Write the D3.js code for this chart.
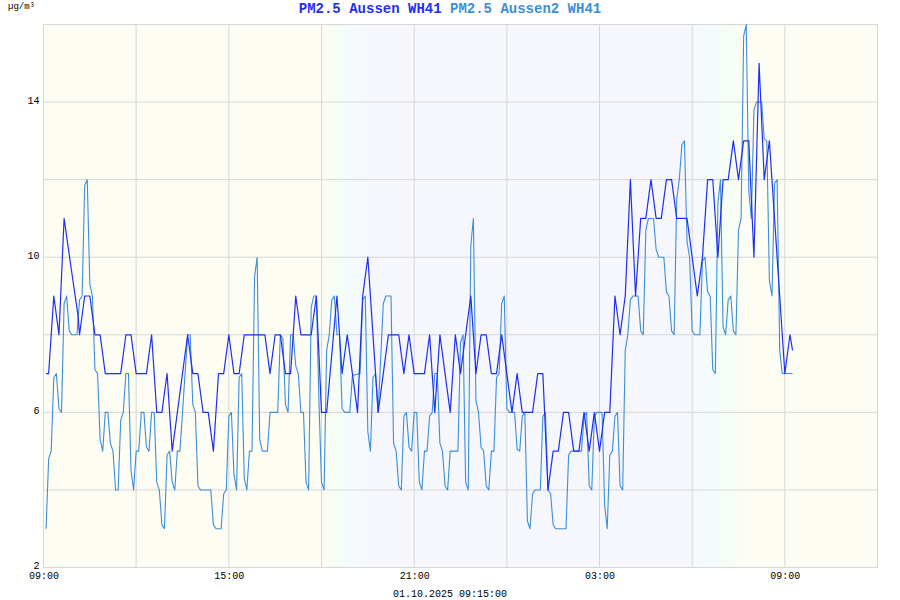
<!DOCTYPE html>
<html><head><meta charset="utf-8">
<script src="https://cdn.jsdelivr.net/npm/d3@7"></script>
<style>body{margin:0;background:#fff}svg{display:block}</style>
</head><body><svg id="c" width="900" height="600"></svg>
<script>
const seriesNames = ["PM2.5 Aussen WH41", "PM2.5 Aussen2 WH41"];
const seriesColors = ["#1f2ff2", "#3d8ed8"];
const unitLabel = "µg/m³";
const footerLabel = "01.10.2025 09:15:00";

// minutes after 30.09.2025 09:00
const darkMinutes = [5,10,20,30,40,55,67,70,80,90,100,110,120,150,160,170,180,200,210,220,230,240,250,260,270,280,290,300,310,320,330,340,350,360,370,380,390,430,440,450,460,470,480,490,500,520,530,540,550,570,580,590,610,620,630,650,670,690,700,710,720,740,750,760,770,780,790,800,810,820,830,840,850,860,870,880,890,900,910,920,930,950,960,970,980,990,1000,1010,1020,1030,1040,1050,1060,1070,1080,1090,1100,1110,1120,1130,1140,1150,1160,1170,1180,1190,1200,1210,1220,1230,1250,1260,1270,1280,1290,1300,1310,1320,1330,1340,1350,1360,1370,1380,1390,1400,1410,1420,1430,1440,1450,1455];
const darkValues = [7,7,9,8,11,9.6,8.5,8,9,9,8,8,7,7,8,8,7,7,8,6,6,7,5,6,7,8,7,7,6,6,5,7,7,8,7,7,8,8,7,8,8,7,7,9,8,8,9,6,6,9,7,8,6,9,10,6,8,8,7,8,7,7,8,6,8,7,6,8,7,8,9,7,8,8,7,7,8,7,6,7,6,6,7,7,4,5,5,6,6,5,5,6,5,6,5,6,6,9,8,9,12,9,11,11,12,11,11,12,12,11,11,10,9,10,12,12,10,12,12,13,12,13,13,10,15,12,13,11,9,7,8,7.6];

const lightMinutes = [5,10,15,20,25,30,35,40,45,50,55,65,70,75,80,85,90,95,100,105,110,115,120,125,130,135,140,145,150,155,160,165,170,175,180,185,190,195,200,205,210,215,220,225,230,235,240,245,250,255,260,265,280,285,290,295,300,305,325,330,335,345,350,355,360,365,370,375,380,385,390,395,400,405,410,415,420,425,435,440,455,460,465,470,475,480,485,490,495,500,505,510,515,520,525,530,535,540,545,550,555,560,565,570,575,580,585,595,600,615,620,625,630,635,640,645,650,660,665,675,680,685,690,695,700,705,710,715,720,725,730,735,740,745,750,755,760,765,770,775,780,785,790,795,805,810,815,820,825,830,835,840,845,850,855,860,865,870,875,880,885,890,895,900,905,915,920,925,930,935,940,945,950,955,965,970,975,980,985,990,995,1015,1020,1025,1045,1050,1055,1060,1065,1070,1075,1085,1090,1095,1100,1105,1110,1115,1120,1125,1130,1135,1140,1145,1155,1160,1165,1170,1175,1185,1190,1195,1205,1210,1215,1220,1225,1230,1235,1240,1245,1250,1255,1260,1265,1275,1280,1285,1290,1295,1300,1305,1310,1315,1320,1325,1330,1335,1340,1345,1350,1355,1360,1365,1370,1375,1380,1385,1395,1400,1405,1410,1415,1420,1425,1430,1435,1455];
const lightValues = [3,4.8,5,6.9,7,6.1,6,8.8,9,8.1,8,8,8.9,9,11.85,12,9.3,9,7.1,7,5.3,5,6,6,5.2,5,4,4,5.8,6,7,7,4.5,4,5,5,6,6,5.1,5,6,6,4.2,4,3.1,3,4.9,5,4.2,4,5,5,8,8,6.2,6,4.1,4,4,3.1,3,3,3.9,4,5.9,6,4.4,4,6.9,7,4.3,4,5,5,9.5,10,5.3,5,5,6,6,8,7.9,6.2,6,8,8,7.2,7,6,6,4.2,4,8.7,9,9,6.3,4.2,4,7.6,8,8.9,9,8,8,6.1,6,6,6.95,7,8.9,9,5.5,5,6.9,7,6,8.8,9,9,5.2,5,4.1,4,5.9,6,5.1,5,6,6,4.2,4,5,5,5.9,6,7,7,5.2,5,4.1,4,5,5,5,7.8,8,4.2,4,10.3,11,6.3,6,5.1,5,4.1,4,5,5,6.9,7,8.8,9,6.1,6,6,5.05,5,5.9,6,3.2,3,3.9,4,4,5.9,6,4,3.9,3.1,3,3,4.9,5,5,5.9,6,4.1,4,5.9,6,6,3.6,3,4.9,5,5.9,6,4.1,4,7.6,8,8.9,9,9,8.1,8,10.7,11,11,10.2,10,10,9.1,9,8.1,8,11.5,12,12.9,13,10.4,10,8.1,8,8,9.9,10,9.1,9,7.1,7,11.4,12,8.2,8,8.9,9,8.1,8,10.7,11,15.7,16,11.7,11,13.8,14,14,13.05,13,9.4,9,11.9,12,7.6,7,7];

const yGridValues = [2,4,6,8,10,12,14,16];
const yLabelValues = [2,6,10,14];
const xGridMinutes = [0,180,360,540,720,900,1080,1260,1440,1620];
const xLabelMinutes = [0,360,720,1080,1440];
const bgBands = [
  {from: 0, to: 540, kind: "day"},
  {from: 540, to: 625, kind: "dusk"},
  {from: 625, to: 1260, kind: "night"},
  {from: 1260, to: 1365, kind: "dawn"},
  {from: 1365, to: 1620, kind: "day"}
];

const start = new Date(2025, 8, 30, 9, 0, 0);
const end = new Date(2025, 9, 1, 12, 0, 0);
const t = m => new Date(start.getTime() + m * 60000);

const svg = d3.select("#c");
const x = d3.scaleTime().domain([start, end]).range([43.5, 877.5]);
const y = d3.scaleLinear().domain([2, 16]).range([567.5, 24.5]);

const defs = svg.append("defs");
const dayC = "#fdfdf4", nightC = "#f6f7fd";
function grad(id, stops) {
  const g = defs.append("linearGradient").attr("id", id).attr("x1", "0").attr("x2", "1").attr("y1", "0").attr("y2", "0");
  stops.forEach(s => g.append("stop").attr("offset", s[0]).attr("stop-color", s[1]));
}
grad("dusk", [[0, dayC], [0.35, "#f5fdf4"], [0.65, "#f4fcfc"], [1, nightC]]);
grad("dawn", [[0, nightC], [0.35, "#f4fbfd"], [0.65, "#f5fdf4"], [1, dayC]]);

svg.append("g").selectAll("rect").data(bgBands).join("rect")
  .attr("x", d => x(t(d.from))).attr("width", d => x(t(d.to)) - x(t(d.from)))
  .attr("y", y(16)).attr("height", y(2) - y(16))
  .attr("fill", d => d.kind === "day" ? dayC : d.kind === "night" ? nightC : `url(#${d.kind})`);

// grid
svg.append("g").selectAll("line").data(xGridMinutes).join("line")
  .attr("x1", d => x(t(d))).attr("x2", d => x(t(d))).attr("y1", y(16)).attr("y2", y(2))
  .attr("stroke", "#d6d6d6").attr("stroke-width", 1);
svg.append("g").selectAll("line").data(yGridValues).join("line")
  .attr("x1", x(start)).attr("x2", x(end)).attr("y1", d => y(d)).attr("y2", d => y(d))
  .attr("stroke", "#d6d6d6").attr("stroke-width", 1);

// lines
const line = d3.line().x(d => x(t(d[0]))).y(d => y(d[1]));
const lightData = lightMinutes.map((m, i) => [m, lightValues[i]]);
const darkData = darkMinutes.map((m, i) => [m, darkValues[i]]);
svg.append("path").datum(lightData).attr("d", line).attr("fill", "none")
  .attr("stroke", seriesColors[1]).attr("stroke-width", 1.1).attr("stroke-linejoin", "round");
svg.append("path").datum(darkData).attr("d", line).attr("fill", "none")
  .attr("stroke", seriesColors[0]).attr("stroke-width", 1.2).attr("stroke-linejoin", "round");

// axes
const font = "'Liberation Mono', 'Courier New', monospace";
const xAxis = d3.axisBottom(x).tickValues(xLabelMinutes.map(t)).tickFormat(d3.timeFormat("%H:%M")).tickSize(0).tickPadding(4);
const gx = svg.append("g").attr("transform", `translate(0,${y(2)})`).call(xAxis);
gx.select(".domain").remove();
gx.selectAll("text").attr("font-family", font).attr("font-size", 10).attr("fill", "#000");

const yAxis = d3.axisLeft(y).tickValues(yLabelValues).tickSize(0).tickPadding(4);
const gy = svg.append("g").attr("transform", `translate(${x(start)},0)`).call(yAxis);
gy.select(".domain").remove();
gy.selectAll("text").attr("font-family", font).attr("font-size", 10).attr("fill", "#000").attr("dy", "0.1em");

// texts
svg.append("text").attr("x", 8).attr("y", 9).attr("font-family", font).attr("font-size", 9).attr("fill", "#000").text(unitLabel);
const title = svg.append("text").attr("x", 450).attr("y", 13).attr("text-anchor", "middle")
  .attr("font-family", font).attr("font-size", 14).attr("font-weight", "bold");
title.append("tspan").attr("fill", seriesColors[0]).text(seriesNames[0]);
title.append("tspan").attr("fill", seriesColors[1]).text(" " + seriesNames[1]);
svg.append("text").attr("x", 450).attr("y", 597).attr("text-anchor", "middle")
  .attr("font-family", font).attr("font-size", 10).attr("fill", "#000").text(footerLabel);
</script></body></html>
